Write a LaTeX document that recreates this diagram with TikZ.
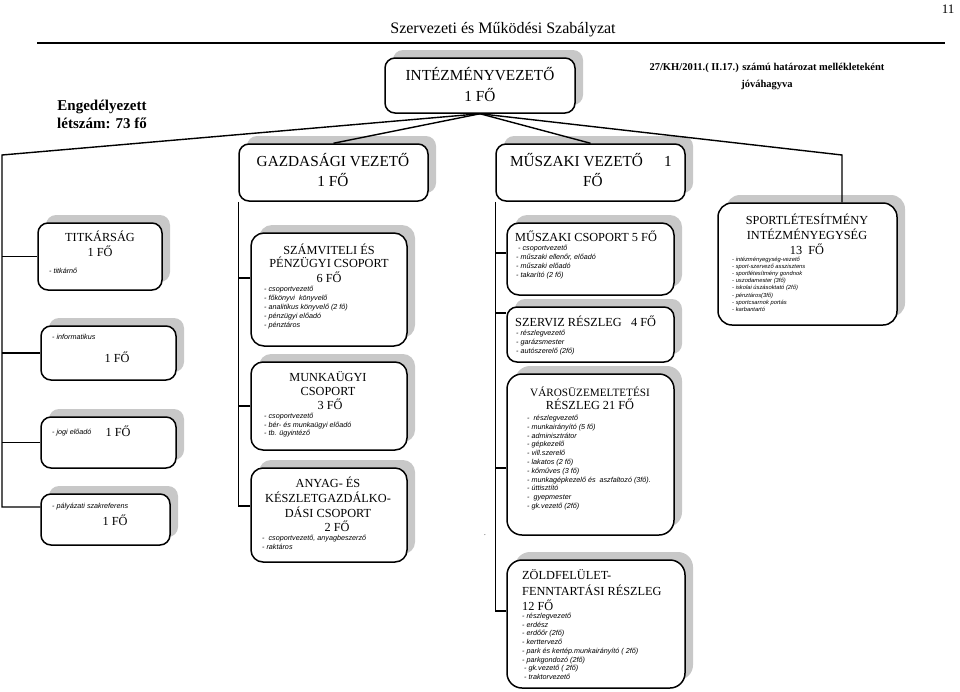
\documentclass[tikz,border=0pt]{standalone}
\usepackage{fontspec}
\setmainfont{Liberation Serif}
\newfontfamily\arialf{Liberation Sans}
\usetikzlibrary{shadows,calc}
\definecolor{shadowgray}{RGB}{200,200,200}
\begin{document}
\begin{tikzpicture}[x=1pt,y=-1pt,
  box/.style={draw=black, line width=1.5pt, rounded corners=10pt, fill=white, inner sep=0pt,
    drop shadow={shadow xshift=8pt, shadow yshift=8pt, fill=shadowgray, opacity=1}},
  conn/.style={line width=1.4pt},
  big/.style={font=\fontsize{15.3}{17}\selectfont, inner sep=0pt, anchor=base},
  ttl/.style={font=\fontsize{12.3}{14}\selectfont, inner sep=0pt, anchor=base},
  ttlw/.style={ttl, anchor=base west},
  itm/.style={font=\arialf\itshape\fontsize{7.2}{8}\selectfont, inner sep=0pt, anchor=base west},
  sitm/.style={font=\arialf\itshape\fontsize{5.8}{7}\selectfont, inner sep=0pt, anchor=base west}]
\useasboundingbox (0,0) rectangle (960,691);

% header
\node[font=\fontsize{13}{15}\selectfont, anchor=base, inner sep=0pt] (pg) at (948,13) {11};
\node[font=\fontsize{16}{18}\selectfont, anchor=base, inner sep=0pt] (title) at (503,33) {Szervezeti és Működési Szabályzat};
\coordinate (hl1) at (37,43);
\coordinate (hl2) at (945,43);
\draw[line width=1.4pt] (hl1) -- (hl2);
\node[font=\bfseries\fontsize{10.5}{12}\selectfont, anchor=base, inner sep=0pt] (hat1) at (767,70) {27/KH/2011.( II.17.) számú határozat mellékleteként};
\node[font=\bfseries\fontsize{10.5}{12}\selectfont, anchor=base, inner sep=0pt] (hat2) at (767,87) {jóváhagyva};
\node[font=\bfseries\fontsize{15}{18}\selectfont, anchor=base, inner sep=0pt] (eng1) at (102,110) {Engedélyezett};
\node[font=\bfseries\fontsize{15}{18}\selectfont, anchor=base, inner sep=0pt] (eng2) at (102,128) {létszám: 73 fő};

% boxes
\node[box, minimum width=190pt, minimum height=55pt] (iv) at (480,85.5) {};
\node[box, minimum width=189pt, minimum height=57pt] (gv) at (333.5,172.5) {};
\node[box, minimum width=189pt, minimum height=57pt] (mv) at (590.5,172.5) {};
\node[box, minimum width=179pt, minimum height=122pt, rounded corners=14pt] (sport) at (807.5,264) {};
\node[box, minimum width=124pt, minimum height=67pt] (titk) at (100,256.5) {};
\node[box, minimum width=135pt, minimum height=54pt] (info) at (108.5,353) {};
\node[box, minimum width=135pt, minimum height=51pt] (jogi) at (108.5,442.5) {};
\node[box, minimum width=129pt, minimum height=51pt] (paly) at (105.5,519.5) {};
\node[box, minimum width=156pt, minimum height=113pt, rounded corners=13pt] (szam) at (329,289.5) {};
\node[box, minimum width=156pt, minimum height=88pt, rounded corners=12pt] (munka) at (329,406) {};
\node[box, minimum width=156pt, minimum height=94pt, rounded corners=12pt] (anyag) at (329,515) {};
\node[box, minimum width=167pt, minimum height=72pt, rounded corners=12pt] (mcs) at (590.5,259) {};
\node[box, minimum width=167pt, minimum height=55pt] (szerv) at (590.5,334.5) {};
\node[box, minimum width=167pt, minimum height=161pt, rounded corners=15pt] (varos) at (590.5,454.5) {};
\node[box, minimum width=178pt, minimum height=128pt, rounded corners=15pt] (zold) at (596,624) {};

% connectors
\coordinate (lt) at (2,155);
\coordinate (rt) at (842,155);
\draw[conn] (iv.south) -- (lt) |- ([yshift=12.5pt]paly.west);
\draw[conn] (lt |- titk.west) -- (titk.west);
\draw[conn] (lt |- info.west) -- (info.west);
\draw[conn] (lt |- jogi.west) -- (jogi.west);
\draw[conn] (iv.south) -- (gv.north);
\draw[conn] (iv.south) -- (mv.north);
\draw[conn] (iv.south) -- (rt) -- (rt |- sport.north);
\draw[conn] (gv.south west) |- ([yshift=9pt]anyag.west);
\draw[conn] ([yshift=11.5pt]szam.west) -- ++(-12,0);
\draw[conn] (munka.west) -- ++(-12,0);
\draw[conn] (mv.south west) |- ([yshift=13pt]zold.west);
\draw[conn] ([yshift=6pt]mcs.west) -- ++(-11,0);
\draw[conn] ([yshift=21.5pt]szerv.west) -- ++(-11,0);
\draw[conn] ([yshift=-13.5pt]varos.west) -- ++(-11,0);

% texts: top boxes
\node[big] (ivt1) at (480,80.7) {INTÉZMÉNYVEZETŐ};
\node[big] (ivt2) at (480,101.7) {1 FŐ};
\node[big] (gvt1) at (333,166.7) {GAZDASÁGI VEZETŐ};
\node[big] (gvt2) at (333,186.7) {1 FŐ};
\node[big] (mvt1) at (576.5,166.7) {MŰSZAKI VEZETŐ};
\node[big] (mvt2) at (668,166.7) {1};
\node[big] (mvt3) at (593,186.7) {FŐ};

% sport
\node[ttl] (spt1) at (807,224) {SPORTLÉTESÍTMÉNY};
\node[ttl] (spt2) at (807,239) {INTÉZMÉNYEGYSÉG};
\node[ttl] (spt3) at (807,254) {13\ \ FŐ};
\foreach \t [count=\i from 0] in {- intézményegység-vezető, - sport-szervező asszisztens, - sportlétesítmény gondnok, - uszodamester (3fő), - iskolai úszásoktató (2fő), - pénztáros(3fő), - sportcsarnok portás, - karbantartó}
  \node[sitm] (spi\i) at (732,261+7.2*\i) {\t};

% left column
\node[ttl] (tkt1) at (100,241) {TITKÁRSÁG};
\node[ttl] (tkt2) at (100,256) {1 FŐ};
\node[itm] (tki) at (49,273.5) {- titkárnő};
\node[itm] (infi) at (52,339.5) {- informatikus};
\node[ttl] (inft) at (117,362) {1 FŐ};
\node[itm] (jogii) at (52,434.5) {- jogi előadó};
\node[ttl] (jogit) at (118,436) {1 FŐ};
\node[itm] (palyi) at (52,508.5) {- pályázati szakreferens};
\node[ttl] (palyt) at (115,525) {1 FŐ};

% gazdasagi column
\node[ttl] (szt1) at (329,254) {SZÁMVITELI ÉS};
\node[ttl] (szt2) at (329,267.5) {PÉNZÜGYI CSOPORT};
\node[ttl] (szt3) at (329,282) {6 FŐ};
\foreach \t [count=\i from 0] in {- csoportvezető, - főkönyvi\ \ könyvelő, - analitikus könyvelő (2 fő), - pénzügyi előadó, - pénztáros}
  \node[itm] (szi\i) at (264,291.5+9*\i) {\t};
\node[ttl] (mut1) at (328,381) {MUNKAÜGYI};
\node[ttl] (mut2) at (328,395) {CSOPORT};
\node[ttl] (mut3) at (330,409) {3 FŐ};
\foreach \t [count=\i from 0] in {- csoportvezető, - bér- és munkaügyi előadó, - tb. ügyintéző}
  \node[itm] (mui\i) at (264,418.5+8.7*\i) {\t};
\node[ttl] (ant1) at (328,487) {ANYAG- ÉS};
\node[ttl] (ant2) at (328,502) {KÉSZLETGAZDÁLKO-};
\node[ttl] (ant3) at (328,517) {DÁSI CSOPORT};
\node[ttl] (ant4) at (337,531) {2 FŐ};
\node[itm] (ani0) at (262,540.5) {-\ \ csoportvezető, anyagbeszerző};
\node[itm] (ani1) at (262,549) {- raktáros};
\node[font=\fontsize{7}{8}\selectfont, inner sep=0pt] (dot) at (485,535) {.};

% muszaki column
\node[ttlw] (mct) at (515,241) {MŰSZAKI CSOPORT 5 FŐ};
\foreach \t [count=\i from 0] in {\ - csoportvezető, {- műszaki ellenőr, előadó}, - műszaki előadó, - takarító (2 fő)}
  \node[itm] (mci\i) at (516,250.5+9*\i) {\t};
\node[ttlw] (svt) at (515,326) {SZERVIZ RÉSZLEG\ \ \ 4 FŐ};
\foreach \t [count=\i from 0] in {- részlegvezető, - garázsmester, - autószerelő (2fő)}
  \node[itm] (svi\i) at (516,335.5+9*\i) {\t};
\node[ttl, font=\fontsize{11.2}{13}\selectfont] (vat1) at (590,396) {VÁROSÜZEMELTETÉSI};
\node[ttl] (vat2) at (590,409) {RÉSZLEG 21 FŐ};
\foreach \t [count=\i from 0] in {-\ \ részlegvezető, - munkairányító (5 fő), - adminisztrátor, - gépkezelő, - vill.szerelő, - lakatos (2 fő), - kőműves (3 fő), - munkagépkezelő és\ \ aszfaltozó (3fő)., - úttisztító, -\ \ gyepmester, - gk.vezető (2fő)}
  \node[itm] (vai\i) at (527,420.5+8.8*\i) {\t};
\node[ttlw] (zot1) at (522,579) {ZÖLDFELÜLET-};
\node[ttlw] (zot2) at (522,595) {FENNTARTÁSI RÉSZLEG};
\node[ttlw] (zot3) at (522,610) {12 FŐ};
\foreach \t [count=\i from 0] in {- részlegvezető, - erdész, - erdőőr (2fő), - kerttervező, - park és kertép.munkairányító ( 2fő), - parkgondozó (2fő), \ - gk.vezető ( 2fő), \ - traktorvezető}
  \node[itm] (zoi\i) at (522,618.5+8.7*\i) {\t};
\end{tikzpicture}
\end{document}
